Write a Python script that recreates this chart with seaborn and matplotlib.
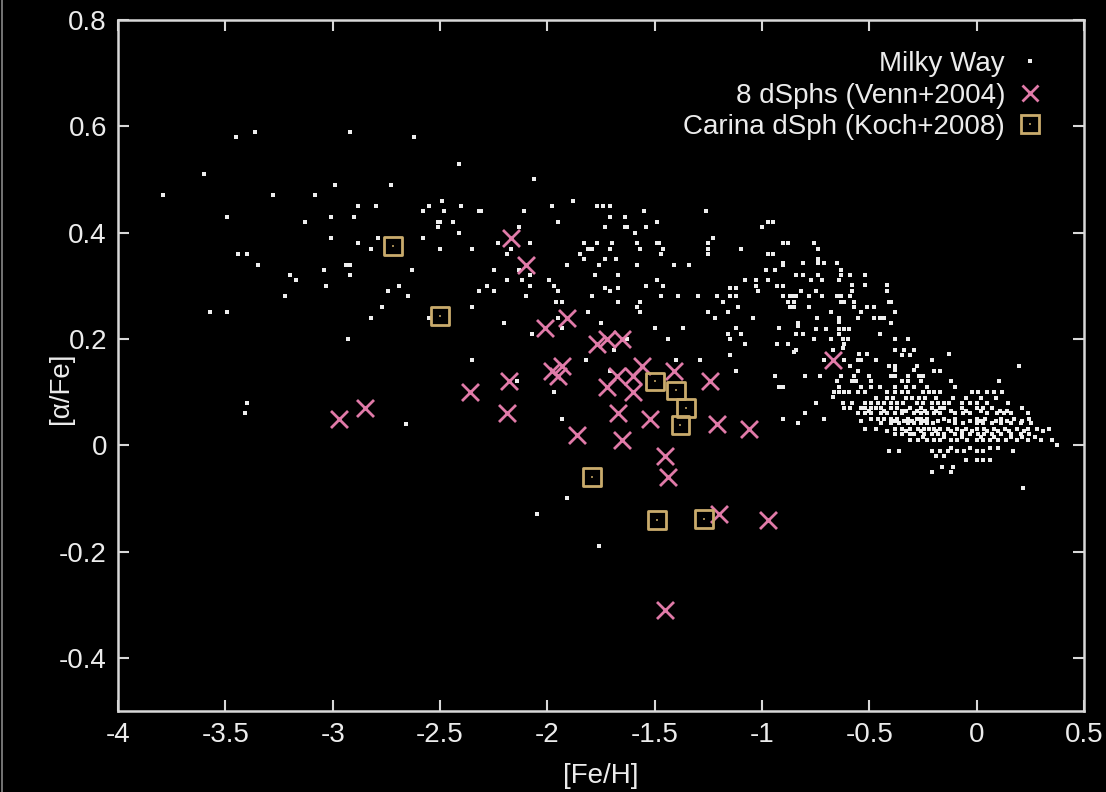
import matplotlib
matplotlib.use("Agg")
import matplotlib.pyplot as plt
import numpy as np
import pandas as pd
import seaborn as sns
from matplotlib.lines import Line2D
from matplotlib.legend_handler import HandlerTuple
from matplotlib.ticker import FuncFormatter

# ---------------- data ----------------
# 8 dSphs (Venn+2004)
venn_feh = [-2.97, -2.85, -2.36, -2.19, -2.18, -2.17, -2.10, -2.01, -1.98, -1.95,
            -1.93, -1.91, -1.86, -1.77, -1.72, -1.65, -1.72, -1.675, -1.60, -1.56,
            -1.60, -1.41, -1.24, -1.67, -1.52, -1.21, -1.06, -1.65, -1.45, -1.44,
            -1.20, -0.97, -1.45, -0.67]
venn_alpha = [0.05, 0.07, 0.10, 0.06, 0.12, 0.39, 0.34, 0.22, 0.14, 0.13,
              0.15, 0.24, 0.02, 0.19, 0.20, 0.20, 0.11, 0.13, 0.13, 0.15,
              0.10, 0.14, 0.12, 0.06, 0.05, 0.04, 0.03, 0.01, -0.02, -0.06,
              -0.13, -0.14, -0.31, 0.16]

# Carina dSph (Koch+2008)
koch_feh = [-2.72, -2.50, -1.79, -1.50, -1.40, -1.355, -1.38, -1.49, -1.27]
koch_alpha = [0.375, 0.243, -0.06, 0.12, 0.103, 0.07, 0.038, -0.141, -0.139]

# Milky Way stars ([Fe/H], [alpha/Fe])
milky_way = [
    (-3.79, 0.47), (-3.60, 0.51), (-3.45, 0.58), (-3.36, 0.59), (-2.92, 0.59), (-2.62, 0.58), (-2.41, 0.53),
    (-3.28, 0.47), (-3.08, 0.47), (-2.99, 0.49), (-2.73, 0.49), (-3.49, 0.43), (-3.13, 0.42), (-3.01, 0.43),
    (-2.88, 0.45), (-2.80, 0.45), (-2.90, 0.43), (-2.58, 0.44), (-2.55, 0.45), (-2.49, 0.46), (-2.48, 0.44),
    (-2.40, 0.45), (-2.32, 0.44), (-2.51, 0.42), (-2.50, 0.42), (-2.51, 0.41), (-2.44, 0.42), (-2.41, 0.40),
    (-3.01, 0.39), (-2.88, 0.38), (-2.79, 0.39), (-2.82, 0.37), (-2.58, 0.39), (-2.50, 0.37), (-2.35, 0.37),
    (-2.23, 0.38), (-3.44, 0.36), (-3.40, 0.36), (-3.35, 0.34), (-3.20, 0.32), (-3.17, 0.31), (-3.22, 0.28),
    (-3.04, 0.33), (-3.03, 0.30), (-2.94, 0.34), (-2.92, 0.34), (-2.92, 0.32), (-2.63, 0.33), (-2.69, 0.30),
    (-2.74, 0.29), (-2.65, 0.28), (-2.77, 0.26), (-2.82, 0.24), (-2.55, 0.24), (-2.35, 0.26), (-2.32, 0.29),
    (-2.28, 0.30), (-2.25, 0.33), (-2.25, 0.29), (-3.57, 0.25), (-3.49, 0.25), (-2.93, 0.20),
    (-3.40, 0.08), (-3.41, 0.06), (-2.66, 0.04), (-2.35, 0.16), (-2.14, 0.12), (-1.97, 0.10), (-1.93, 0.05),
    (-1.82, 0.16), (-1.91, -0.10), (-2.05, -0.13), (-1.76, -0.19), (-2.07, 0.21),
    (-2.06, 0.50), (-1.98, 0.45), (-1.88, 0.46), (-2.11, 0.44), (-1.95, 0.42), (-2.31, 0.44), (-2.13, 0.41),
    (-2.08, 0.38), (-2.23, 0.38), (-2.17, 0.37), (-2.19, 0.36), (-2.25, 0.33), (-2.13, 0.33), (-2.08, 0.32),
    (-2.19, 0.31), (-2.12, 0.31), (-2.28, 0.30), (-2.08, 0.30), (-2.10, 0.28), (-2.20, 0.23),
    (-1.99, 0.31), (-1.97, 0.30), (-1.95, 0.29), (-1.96, 0.27), (-1.93, 0.27), (-1.95, 0.24), (-1.93, 0.22),
    (-1.91, 0.34), (-1.77, 0.45), (-1.74, 0.45), (-1.71, 0.45), (-1.71, 0.43), (-1.64, 0.43), (-1.55, 0.44),
    (-1.73, 0.41), (-1.64, 0.41), (-1.63, 0.41), (-1.54, 0.41), (-1.49, 0.42), (-1.59, 0.40),
    (-1.83, 0.38), (-1.81, 0.37), (-1.79, 0.37), (-1.77, 0.38), (-1.70, 0.38), (-1.71, 0.37), (-1.58, 0.38),
    (-1.57, 0.37), (-1.49, 0.38), (-1.48, 0.38), (-1.46, 0.37), (-1.47, 0.36), (-1.85, 0.36), (-1.83, 0.35),
    (-1.76, 0.34), (-1.73, 0.35), (-1.68, 0.35), (-1.58, 0.34), (-1.78, 0.32), (-1.67, 0.32), (-1.41, 0.34),
    (-1.34, 0.34), (-1.25, 0.38), (-1.25, 0.37), (-1.25, 0.36), (-1.23, 0.39), (-1.26, 0.44), (-1.10, 0.37),
    (-1.00, 0.41), (-0.97, 0.42), (-0.95, 0.42), (-0.97, 0.36), (-0.95, 0.36), (-0.90, 0.38), (-0.88, 0.38),
    (-0.98, 0.33), (-0.94, 0.33), (-0.90, 0.34), (-0.97, 0.31), (-0.93, 0.30), (-0.90, 0.30), (-0.84, 0.32),
    (-0.90, 0.28), (-0.87, 0.28), (-0.88, 0.27), (-0.85, 0.26), (-0.83, 0.23), (-0.92, 0.22), (-0.93, 0.19),
    (-0.88, 0.19), (-0.84, 0.18), (-0.84, 0.21), (-0.94, 0.13), (-0.92, 0.11), (-0.90, 0.11), (-0.90, 0.05),
    (-1.15, 0.295), (-1.12, 0.295), (-1.12, 0.28), (-1.21, 0.28), (-1.18, 0.27), (-1.15, 0.28), (-1.11, 0.26),
    (-1.25, 0.25), (-1.22, 0.24), (-1.16, 0.25), (-1.04, 0.24), (-1.08, 0.31), (-1.03, 0.31), (-1.03, 0.30),
    (-1.02, 0.29), (-1.12, 0.22), (-1.10, 0.21), (-1.16, 0.21), (-1.15, 0.20), (-1.08, 0.19), (-1.15, 0.17),
    (-1.12, 0.14), (-1.29, 0.16), (-1.37, 0.22), (-1.50, 0.22), (-1.44, 0.20), (-1.39, 0.28), (-1.30, 0.28),
    (-1.47, 0.28), (-1.46, 0.30), (-1.54, 0.30), (-1.49, 0.31), (-1.57, 0.25), (-1.58, 0.26), (-1.57, 0.27),
    (-1.67, 0.295), (-1.71, 0.29), (-1.73, 0.295), (-1.79, 0.28), (-1.67, 0.27), (-1.81, 0.25), (-1.75, 0.23),
    (-1.69, 0.18), (-1.63, 0.20), (-1.71, 0.14), (-1.40, 0.16),
    (-0.757, 0.38), (-0.74, 0.37), (-0.90, 0.342), (-0.81, 0.342), (-0.74, 0.342), (-0.71, 0.342), (-0.65, 0.342),
    (-0.74, 0.351), (-0.84, 0.321), (-0.81, 0.321), (-0.74, 0.321), (-0.63, 0.329), (-0.63, 0.321), (-0.59, 0.321),
    (-0.52, 0.321), (-0.77, 0.31), (-0.72, 0.31), (-0.64, 0.311), (-0.82, 0.29), (-0.75, 0.29), (-0.58, 0.301),
    (-0.58, 0.29), (-0.52, 0.301), (-0.42, 0.301), (-0.42, 0.29), (-0.86, 0.28), (-0.84, 0.28), (-0.78, 0.28),
    (-0.72, 0.28), (-0.65, 0.28), (-0.63, 0.28), (-0.59, 0.28), (-0.85, 0.27), (-0.87, 0.26), (-0.63, 0.27),
    (-0.62, 0.27), (-0.57, 0.27), (-0.51, 0.26), (-0.48, 0.26), (-0.41, 0.27), (-0.40, 0.27), (-0.78, 0.26),
    (-0.57, 0.26), (-0.54, 0.251), (-0.68, 0.251), (-0.38, 0.251), (-0.48, 0.239), (-0.45, 0.239), (-0.43, 0.239),
    (-0.555, 0.239), (-0.745, 0.239), (-0.64, 0.239), (-0.64, 0.232), (-0.40, 0.23), (-0.83, 0.225), (-0.75, 0.219),
    (-0.70, 0.219), (-0.64, 0.219), (-0.62, 0.219), (-0.595, 0.219), (-0.81, 0.21), (-0.64, 0.21), (-0.45, 0.21),
    (-0.76, 0.20), (-0.68, 0.20), (-0.625, 0.20), (-0.60, 0.20), (-0.38, 0.20), (-0.32, 0.20), (-0.62, 0.191),
    (-0.625, 0.182), (-0.85, 0.175), (-0.38, 0.18), (-0.34, 0.18), (-0.29, 0.18), (-0.67, 0.18), (-0.35, 0.169),
    (-0.31, 0.169), (-0.55, 0.171), (-0.51, 0.171), (-0.13, 0.171), (-0.71, 0.16), (-0.62, 0.16), (-0.59, 0.15),
    (-0.555, 0.16), (-0.54, 0.16), (-0.47, 0.16), (-0.41, 0.15), (-0.38, 0.15), (-0.28, 0.15), (-0.21, 0.16),
    (0.195, 0.15), (-0.38, 0.141), (-0.29, 0.141), (-0.20, 0.14), (-0.17, 0.14), (-0.555, 0.14),
    (-0.80, 0.13), (-0.73, 0.13), (-0.63, 0.13), (-0.57, 0.13), (-0.50, 0.13), (-0.40, 0.13), (-0.38, 0.13),
    (-0.32, 0.13), (-0.27, 0.13), (-0.25, 0.13),
    (-0.65, 0.12), (-0.58, 0.12), (-0.56, 0.12), (-0.49, 0.12), (-0.35, 0.12), (-0.32, 0.12), (-0.26, 0.12),
    (-0.12, 0.12), (0.106, 0.12),
    (-0.64, 0.11), (-0.54, 0.11), (-0.49, 0.11), (-0.45, 0.11), (-0.38, 0.11), (-0.33, 0.11), (-0.29, 0.11),
    (-0.23, 0.11), (-0.10, 0.11),
    (-0.665, 0.10), (-0.64, 0.10), (-0.62, 0.10), (-0.595, 0.10), (-0.555, 0.10), (-0.52, 0.10), (-0.42, 0.10),
    (-0.38, 0.10), (-0.35, 0.10), (-0.32, 0.10), (-0.25, 0.10), (-0.22, 0.10), (-0.20, 0.10), (-0.17, 0.10),
    (-0.02, 0.10), (0.005, 0.10), (0.05, 0.10), (0.08, 0.10), (0.12, 0.10), (-0.67, 0.091),
    (-0.75, 0.08), (-0.625, 0.08), (-0.58, 0.08), (-0.52, 0.08), (-0.49, 0.08), (-0.46, 0.08), (-0.43, 0.08),
    (-0.40, 0.08), (-0.37, 0.08), (-0.345, 0.08), (-0.28, 0.08), (-0.25, 0.08), (-0.21, 0.08), (-0.18, 0.08),
    (-0.15, 0.08), (-0.13, 0.08), (-0.07, 0.08), (-0.03, 0.08), (0.00, 0.08), (0.05, 0.08), (0.145, 0.08),
    (-0.62, 0.07), (-0.59, 0.07), (-0.54, 0.07), (-0.52, 0.07), (-0.49, 0.07), (-0.47, 0.07), (-0.445, 0.07),
    (-0.40, 0.07), (-0.37, 0.07), (-0.31, 0.07), (-0.26, 0.07), (-0.21, 0.07), (-0.17, 0.07), (-0.15, 0.07),
    (-0.07, 0.07), (0.00, 0.07), (0.03, 0.07), (0.07, 0.07), (0.21, 0.07),
    (-0.80, 0.06), (-0.555, 0.06), (-0.52, 0.06), (-0.49, 0.06), (-0.445, 0.06), (-0.42, 0.06), (-0.38, 0.06),
    (-0.35, 0.06), (-0.29, 0.06), (-0.26, 0.06), (-0.23, 0.06), (-0.20, 0.06), (-0.17, 0.06), (-0.10, 0.06),
    (-0.065, 0.06), (-0.03, 0.06), (0.05, 0.06), (0.095, 0.06), (0.125, 0.06), (0.16, 0.06), (0.24, 0.06),
    (-0.71, 0.05), (-0.49, 0.05), (-0.46, 0.05), (-0.43, 0.05), (-0.40, 0.05), (-0.37, 0.05), (-0.32, 0.05),
    (-0.28, 0.05), (-0.26, 0.05), (-0.23, 0.05), (-0.15, 0.05), (-0.10, 0.05), (0.00, 0.05), (0.04, 0.05),
    (0.115, 0.05), (0.175, 0.05), (0.245, 0.05),
    (-0.83, 0.041), (-0.445, 0.041), (-0.40, 0.041), (-0.36, 0.041), (-0.32, 0.041), (-0.29, 0.041),
    (-0.26, 0.041), (-0.23, 0.041), (-0.205, 0.041), (-0.10, 0.041), (-0.065, 0.041), (0.00, 0.041),
    (0.03, 0.041), (0.07, 0.041), (0.115, 0.041), (0.16, 0.041), (0.205, 0.041), (0.255, 0.041),
    (-0.52, 0.031), (-0.47, 0.031), (-0.38, 0.031), (-0.35, 0.031), (-0.31, 0.031), (-0.275, 0.031),
    (-0.245, 0.031), (-0.22, 0.031), (-0.20, 0.031), (-0.17, 0.031), (-0.135, 0.031), (-0.09, 0.031),
    (-0.05, 0.031), (0.00, 0.031), (0.035, 0.031), (0.08, 0.031), (0.13, 0.031), (0.19, 0.031),
    (0.24, 0.031), (0.28, 0.031), (0.335, 0.031),
    (-0.38, 0.021), (-0.35, 0.021), (-0.31, 0.021), (-0.29, 0.021), (-0.245, 0.021), (-0.21, 0.021),
    (-0.18, 0.021), (-0.15, 0.021), (-0.10, 0.021), (-0.07, 0.021), (-0.03, 0.021), (0.005, 0.021),
    (0.035, 0.021), (0.07, 0.021), (0.115, 0.021), (0.16, 0.021), (0.205, 0.021), (0.245, 0.021),
    (-0.31, 0.01), (-0.275, 0.01), (-0.23, 0.01), (-0.20, 0.01), (-0.17, 0.01), (-0.12, 0.01), (-0.09, 0.01),
    (-0.045, 0.01), (0.00, 0.01), (0.03, 0.01), (0.06, 0.01), (0.10, 0.01), (0.135, 0.01), (0.19, 0.01),
    (0.24, 0.01), (0.30, 0.01), (0.35, 0.01), (0.375, 0.0),
    (-0.41, -0.01), (-0.36, -0.01), (-0.21, -0.01), (-0.17, -0.01), (-0.135, -0.01), (-0.09, -0.01),
    (-0.06, -0.01), (0.00, -0.01), (0.03, -0.01), (0.17, -0.01),
    (-0.19, -0.02), (-0.15, -0.02), (-0.05, -0.028), (0.00, -0.028), (0.03, -0.028), (0.06, -0.028),
    (-0.16, -0.041), (-0.11, -0.041), (-0.21, -0.05), (-0.12, -0.05), (0.215, -0.08),
    # additional stars in the crowded thin-disc core
    (-0.47, 0.088), (-0.42, 0.088), (-0.39, 0.088), (-0.33, 0.088), (-0.30, 0.088), (-0.27, 0.088),
    (-0.24, 0.088), (-0.19, 0.088), (-0.11, 0.088), (-0.05, 0.088), (0.02, 0.088), (0.09, 0.088),
    (-0.50, 0.065), (-0.43, 0.065), (-0.35, 0.065), (-0.33, 0.065), (-0.28, 0.065), (-0.24, 0.065),
    (-0.19, 0.065), (-0.12, 0.065), (-0.05, 0.065), (0.02, 0.065), (0.11, 0.065), (0.14, 0.065),
    (-0.54, 0.046), (-0.38, 0.046), (-0.34, 0.046), (-0.30, 0.046), (-0.25, 0.046), (-0.18, 0.046),
    (-0.13, 0.046), (-0.03, 0.046), (0.02, 0.046), (0.09, 0.046), (0.14, 0.046), (0.21, 0.046),
    (-0.42, 0.026), (-0.33, 0.026), (-0.26, 0.026), (-0.19, 0.026), (-0.12, 0.026), (-0.07, 0.026),
    (-0.02, 0.026), (0.05, 0.026), (0.10, 0.026), (0.15, 0.026), (0.22, 0.026), (0.31, 0.026),
    (-0.25, 0.015), (-0.15, 0.015), (-0.07, 0.015), (0.02, 0.015), (0.08, 0.015), (0.16, 0.015),
    (0.21, 0.015), (0.27, 0.015), (-0.12, -0.005), (-0.03, -0.005), (0.06, -0.005), (0.10, -0.005),
]

x_ticks = [-4, -3.5, -3, -2.5, -2, -1.5, -1, -0.5, 0, 0.5]
y_ticks = [-0.4, -0.2, 0, 0.2, 0.4, 0.6, 0.8]
labels = ["Milky Way", "8 dSphs (Venn+2004)", "Carina dSph (Koch+2008)"]

mw_df = pd.DataFrame(milky_way, columns=["feh", "alpha"])
venn_df = pd.DataFrame({"feh": venn_feh, "alpha": venn_alpha})
koch_df = pd.DataFrame({"feh": koch_feh, "alpha": koch_alpha})

# ---------------- style ----------------
FG = "#d8d8d8"
TXT = "#ececec"
PINK = "#e07aa8"
GOLD = "#c9ab6c"
GOLD_DOT = "#9c8450"
DOT = "#eeeeee"

sns.set_style("dark", rc={"axes.facecolor": "black", "figure.facecolor": "black",
                          "axes.edgecolor": FG, "text.color": TXT,
                          "xtick.color": FG, "ytick.color": FG,
                          "axes.labelcolor": TXT})
plt.rcParams["font.family"] = ["Liberation Sans", "DejaVu Sans"]
plt.rcParams["font.size"] = 20

fig = plt.figure(figsize=(11.06, 7.92), dpi=100, facecolor="black")
ax = fig.add_axes([118 / 1106, 1 - 711 / 792, 966 / 1106, 691 / 792])
ax.set_facecolor("black")

sns.scatterplot(data=mw_df, x="feh", y="alpha", marker="s", s=7, color=DOT,
                linewidth=0, ax=ax, legend=False, zorder=2)
sns.scatterplot(data=venn_df, x="feh", y="alpha", marker="x", s=150, color=PINK,
                linewidth=2.0, ax=ax, legend=False, zorder=3)
sns.scatterplot(data=koch_df, x="feh", y="alpha", marker="s", s=165, facecolors="none",
                edgecolors=GOLD, linewidth=2.0, ax=ax, legend=False, zorder=4)
sns.scatterplot(data=koch_df, x="feh", y="alpha", marker="s", s=4, color=GOLD_DOT,
                linewidth=0, ax=ax, legend=False, zorder=5)

ax.set_xlim(-4, 0.5)
ax.set_ylim(-0.5, 0.8)
ax.set_xticks(x_ticks)
ax.set_yticks(y_ticks)
fmt = FuncFormatter(lambda v, p: "%g" % round(v, 3))
ax.xaxis.set_major_formatter(fmt)
ax.yaxis.set_major_formatter(fmt)
ax.tick_params(axis="both", which="major", direction="in", length=8, width=1.5,
               color=FG, labelcolor=TXT, labelsize=20, pad=8,
               top=True, right=True, bottom=True, left=True)
for sp in ax.spines.values():
    sp.set_visible(True)
    sp.set_color(FG)
    sp.set_linewidth(1.8)
ax.grid(False)

ax.set_xlabel("[Fe/H]", fontsize=20, color=TXT, labelpad=11)
ax.set_ylabel("[α/Fe]", fontsize=20, color=TXT)
ax.yaxis.set_label_coords(-0.046, 0.4674)

h_mw = Line2D([], [], linestyle="none", marker="s", markersize=2.4, color=DOT, markeredgewidth=0)
h_venn = Line2D([], [], linestyle="none", marker="x", markersize=12, color=PINK, markeredgewidth=2.0)
h_koch = (Line2D([], [], linestyle="none", marker="s", markersize=12.5, markerfacecolor="none",
                 markeredgecolor=GOLD, markeredgewidth=2.0),
          Line2D([], [], linestyle="none", marker="s", markersize=2, color=GOLD_DOT, markeredgewidth=0))
leg = ax.legend([h_mw, h_venn, h_koch], labels, loc="upper right",
                bbox_to_anchor=((1044 - 118) / 966, (711 - 51) / 691),
                frameon=False, markerfirst=False, fontsize=20, handlelength=1.0,
                handletextpad=0.4, labelspacing=0.2, borderpad=0, borderaxespad=0,
                handler_map={tuple: HandlerTuple(ndivide=1, pad=0)})
for t in leg.get_texts():
    t.set_color(TXT)

fig.add_artist(Line2D([0.0015, 0.0015], [0, 1], transform=fig.transFigure, color="#888888", lw=1.2))

fig.savefig("out.png", dpi=100, facecolor="black")
